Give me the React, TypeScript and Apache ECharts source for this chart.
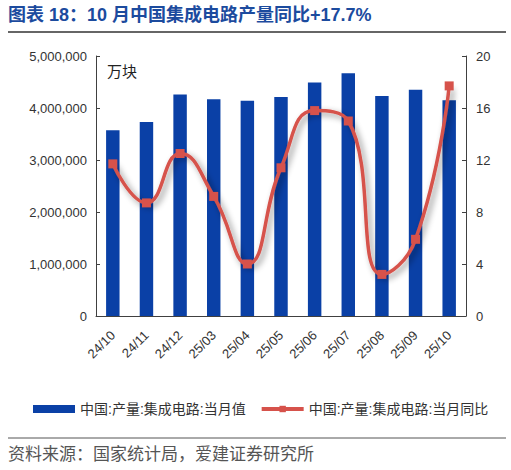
import React, { useEffect, useRef } from "react";
import * as echarts from "echarts";

const categories = ["24/10", "24/11", "24/12", "25/03", "25/04", "25/05", "25/06", "25/07", "25/08", "25/09", "25/10"];
const monthlyOutput = [3570000, 3730000, 4260000, 4170000, 4140000, 4210000, 4490000, 4670000, 4230000, 4350000, 4150000];
const yoyGrowth = [11.7, 8.7, 12.5, 9.2, 4.0, 11.4, 15.8, 15.0, 3.2, 5.9, 17.7];
const leftTicks = { min: 0, max: 5000000, interval: 1000000 };
const rightTicks = { min: 0, max: 20, interval: 4 };
const barName = "中国:产量:集成电路:当月值";
const lineName = "中国:产量:集成电路:当月同比";
const titleText = "图表 18：10 月中国集成电路产量同比+17.7%";
const unitText = "万块";
const sourceText = "资料来源：国家统计局，爱建证券研究所";

const FONT = '"Liberation Sans", Arial, "Noto Sans CJK SC", sans-serif';
const BLUE = "#0A40A6";
const RED = "#D6524B";
const AXIS = "#404040";

export default function App() {
  const ref = useRef<HTMLDivElement>(null);
  useEffect(() => {
    document.body.style.margin = "0";
    if (!ref.current) return;
    const chart = echarts.init(ref.current, null, { renderer: "svg" });
    chart.setOption({
      animation: false,
      textStyle: { fontFamily: FONT },
      grid: { left: 96, right: 45, top: 56, bottom: 154, containLabel: false },
      legend: {
        left: 28,
        top: 397,
        itemGap: 14,
        itemWidth: 42,
        itemHeight: 8,
        textStyle: { fontSize: 14, color: "#333", fontFamily: FONT },
        data: [
          { name: barName, icon: "rect", itemStyle: { color: BLUE } },
          {
            name: lineName,
            itemStyle: { color: RED },
            lineStyle: { color: RED, width: 4, shadowBlur: 0, shadowOffsetX: 0, shadowOffsetY: 0 },
          },
        ],
      },
      xAxis: {
        type: "category",
        data: categories,
        axisLine: { lineStyle: { color: AXIS, width: 1 } },
        axisTick: { show: false },
        axisLabel: { rotate: 45, fontSize: 13, color: "#333", margin: 17, interval: 0 },
      },
      yAxis: [
        {
          type: "value",
          ...leftTicks,
          splitLine: { show: false },
          axisLine: { show: true, lineStyle: { color: AXIS } },
          axisTick: { show: true, inside: true, length: 4, lineStyle: { color: AXIS } },
          axisLabel: {
            fontSize: 13,
            color: "#333",
            margin: 9,
            formatter: (v: number) => v.toLocaleString("en-US"),
          },
        },
        {
          type: "value",
          ...rightTicks,
          position: "right",
          splitLine: { show: false },
          axisLine: { show: true, lineStyle: { color: AXIS } },
          axisTick: { show: true, inside: true, length: 4, lineStyle: { color: AXIS } },
          axisLabel: { fontSize: 13, color: "#333", margin: 10 },
        },
      ],
      series: [
        {
          name: barName,
          type: "bar",
          data: monthlyOutput,
          barWidth: "40%",
          itemStyle: { color: BLUE },
        },
        {
          name: lineName,
          type: "line",
          yAxisIndex: 1,
          data: yoyGrowth,
          smooth: 0.5,
          symbol: "rect",
          symbolSize: 9,
          itemStyle: { color: RED },
          lineStyle: {
            color: RED,
            width: 3.5,
            shadowColor: "rgba(0,0,0,0.45)",
            shadowBlur: 6,
            shadowOffsetX: 3,
            shadowOffsetY: 3,
          },
        },
      ],
      graphic: [
        {
          type: "text",
          left: 8,
          top: 6,
          style: { text: titleText, fontSize: 18, fontWeight: "bold", fill: "#1C4B9E", fontFamily: FONT },
        },
        {
          type: "line",
          shape: { x1: 8, y1: 32, x2: 506, y2: 32 },
          style: { stroke: "#333", lineWidth: 1.5 },
        },
        {
          type: "text",
          left: 107,
          top: 64,
          style: { text: unitText, fontSize: 15, fill: "#222", fontFamily: FONT },
        },
        {
          type: "line",
          shape: { x1: 8, y1: 438, x2: 506, y2: 438 },
          style: { stroke: "#555", lineWidth: 1 },
        },
        {
          type: "text",
          left: 8,
          top: 446,
          style: { text: sourceText, fontSize: 17, fill: "#555", fontFamily: FONT },
        },
      ],
    });
    return () => chart.dispose();
  }, []);
  return <div ref={ref} style={{ width: 511, height: 470 }} />;
}
